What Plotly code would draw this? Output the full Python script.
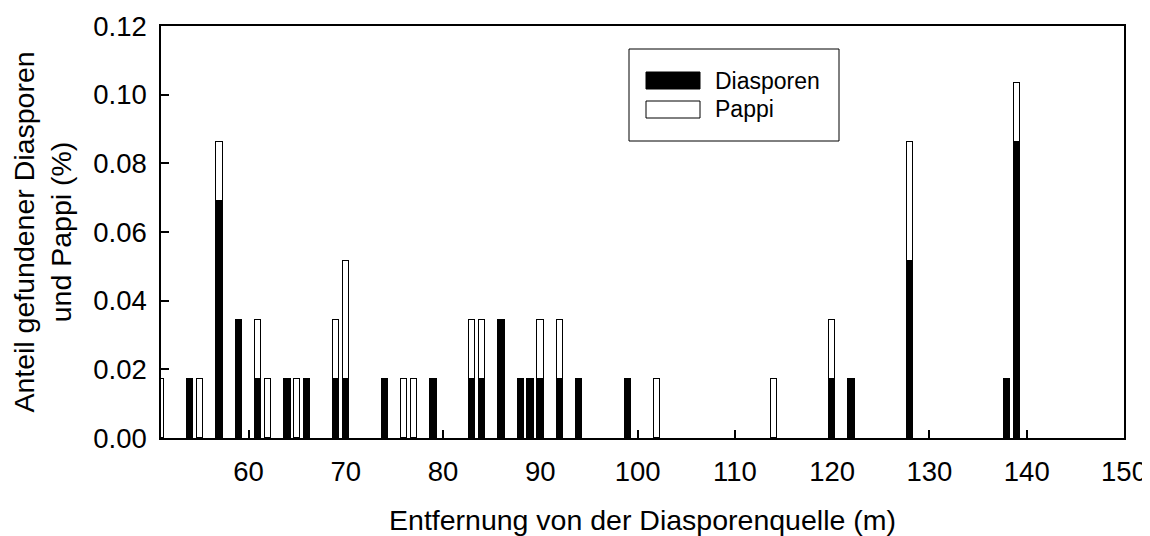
import plotly.graph_objects as go

# Data (units: % of diaspores / pappi found)
distance = [51, 54, 55, 57, 59, 61, 62, 64, 65, 66, 69, 70, 74, 76, 77, 79,
            83, 84, 86, 88, 89, 90, 92, 94, 99, 102, 114, 120, 122, 128, 138, 139]
diasporen = [0.0, 0.0172, 0.0, 0.0690, 0.0345, 0.0172, 0.0, 0.0172, 0.0, 0.0172, 0.0172, 0.0172,
             0.0172, 0.0, 0.0, 0.0172, 0.0172, 0.0172, 0.0345, 0.0172, 0.0172, 0.0172, 0.0172,
             0.0172, 0.0172, 0.0, 0.0, 0.0172, 0.0172, 0.0517, 0.0172, 0.0862]
pappi = [0.0172, 0.0, 0.0172, 0.0172, 0.0, 0.0172, 0.0172, 0.0, 0.0172, 0.0, 0.0172, 0.0345,
         0.0, 0.0172, 0.0172, 0.0, 0.0172, 0.0172, 0.0, 0.0, 0.0, 0.0172, 0.0172,
         0.0, 0.0, 0.0172, 0.0172, 0.0172, 0.0, 0.0345, 0.0, 0.0172]
x_ticks = [60, 70, 80, 90, 100, 110, 120, 130, 140, 150]
y_ticks = [0.00, 0.02, 0.04, 0.06, 0.08, 0.10, 0.12]

FONT = "Liberation Sans, Arial, sans-serif"
FS_TICK = 27.5
FS_TITLE = 28.5

dx = [d for d, v in zip(distance, diasporen) if v > 0]
dy = [v for v in diasporen if v > 0]
px_ = [d for d, v in zip(distance, pappi) if v > 0]
py_ = [v for v in pappi if v > 0]

fig = go.Figure()
fig.add_trace(go.Bar(x=dx, y=dy, name="Diasporen", width=0.65,
                     marker=dict(color="black", line=dict(color="black", width=1))))
fig.add_trace(go.Bar(x=px_, y=py_, name="Pappi", width=0.65,
                     marker=dict(color="white", line=dict(color="black", width=1))))

# page has an 8px body margin; figure sized to fill the rest of the window
OFF = 8
W, H = 1150 - OFF, 536 - OFF
L, R, T, B = 161 - OFF, 26, 26 - OFF, 98
pw, ph = W - L - R, H - T - B

def xp(p):  # page pixel -> paper x
    return (p - OFF - L) / pw

def yp(p):  # page pixel -> paper y
    return (H - B - (p - OFF)) / ph

shapes = [
    dict(type="rect", xref="paper", yref="paper", x0=xp(629), x1=xp(839), y0=yp(141), y1=yp(49),
         line=dict(color="black", width=1), fillcolor="white", layer="above"),
    dict(type="rect", xref="paper", yref="paper", x0=xp(646), x1=xp(700), y0=yp(89), y1=yp(72),
         line=dict(color="black", width=1), fillcolor="black", layer="above"),
    dict(type="rect", xref="paper", yref="paper", x0=xp(646), x1=xp(700), y0=yp(118), y1=yp(101),
         line=dict(color="black", width=1), fillcolor="white", layer="above"),
]
annotations = [
    dict(text="Diasporen", xref="paper", yref="paper", x=xp(713), y=yp(80.5), xanchor="left",
         yanchor="middle", showarrow=False, font=dict(family=FONT, size=23, color="black")),
    dict(text="Pappi", xref="paper", yref="paper", x=xp(713), y=yp(109.5), xanchor="left",
         yanchor="middle", showarrow=False, font=dict(family=FONT, size=23, color="black")),
]

fig.update_layout(
    width=W, height=H,
    margin=dict(l=L, r=R, t=T, b=B, pad=0),
    barmode="stack", bargap=0,
    plot_bgcolor="white", paper_bgcolor="white",
    showlegend=False,
    font=dict(family=FONT, size=FS_TICK, color="black"),
    shapes=shapes, annotations=annotations,
    xaxis=dict(range=[51, 150], tickvals=x_ticks, ticks="inside", ticklen=8, tickwidth=1.5,
               tickcolor="black", showline=True, linecolor="black", linewidth=1.5, mirror=True,
               showgrid=False, zeroline=False, automargin=False, ticklabelstandoff=8,
               title=dict(text="Entfernung von der Diasporenquelle (m)", standoff=24,
                          font=dict(size=FS_TITLE))),
    yaxis=dict(range=[0, 0.12], tickvals=y_ticks, tickformat=".2f", ticks="inside", ticklen=8,
               tickwidth=1.5, tickcolor="black", showline=True, linecolor="black", linewidth=1.5,
               mirror=True, showgrid=False, zeroline=False, automargin=False,
               ticklabelstandoff=7,
               title=dict(text="Anteil gefundener Diasporen<br>und Pappi (%)", standoff=18,
                          font=dict(size=FS_TITLE))),
)

fig.write_html("out.html")
